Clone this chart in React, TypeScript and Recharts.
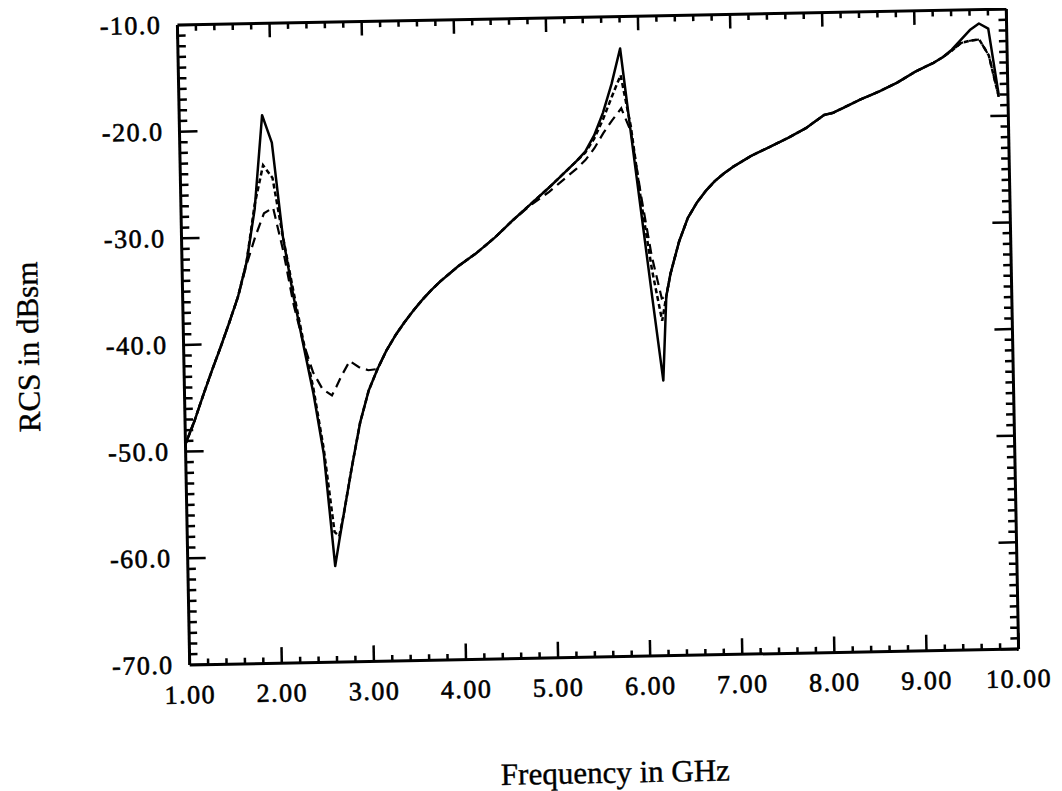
import React from 'react';
import { ComposedChart, Line, Scatter, XAxis, YAxis } from 'recharts';

// Frequency samples (GHz)
const freqGHz = [
  1.0, 1.1, 1.2, 1.3, 1.4, 1.5, 1.6, 1.7, 1.8, 1.9,
  2.0, 2.1, 2.2, 2.3, 2.4, 2.5, 2.6, 2.65, 2.7, 2.8, 2.9,
  3.0, 3.1, 3.2, 3.3, 3.4, 3.5, 3.6, 3.7, 3.8, 3.9,
  4.0, 4.2, 4.4, 4.6, 4.8, 5.0, 5.1, 5.2, 5.3, 5.4, 5.5, 5.6, 5.7, 5.8, 5.9,
  6.0, 6.1, 6.2, 6.25, 6.3, 6.4, 6.5, 6.6, 6.7, 6.8, 6.9,
  7.0, 7.2, 7.4, 7.6, 7.8, 7.9, 8.0, 8.1, 8.2, 8.4, 8.6, 8.8,
  9.0, 9.1, 9.2, 9.3, 9.4, 9.5, 9.6, 9.7, 9.8, 9.9,
];

// Solid curve (dBsm)
const rcsSolid = [
  -49.3, -47.2, -44.8, -42.5, -40.3, -38.0, -35.6, -32.4, -27.4, -18.6,
  -21.2, -30.0, -35.5, -40.2, -44.8, -50.5, -61.0, -58.6, -56.3, -51.8, -47.6,
  -44.6, -42.6, -40.9, -39.5, -38.3, -37.2, -36.2, -35.3, -34.5, -33.8,
  -33.1, -31.9, -30.5, -28.9, -27.4, -25.9, -25.1, -24.3, -23.5, -22.6, -21.1, -19.0, -16.3, -13.0, -21.0,
  -28.8, -36.6, -44.2, -36.3, -34.2, -31.2, -29.0, -27.6, -26.5, -25.6, -24.9,
  -24.3, -23.3, -22.5, -21.7, -20.8, -20.2, -19.6, -19.4, -19.0, -18.2, -17.5, -16.7,
  -15.7, -15.3, -14.9, -14.4, -13.7, -12.8, -11.9, -11.3, -11.8, -18.0,
];

// Short-dashed curve (dBsm)
const rcsShortDash = [
  -49.3, -47.2, -44.8, -42.5, -40.3, -38.0, -35.6, -32.4, -27.0, -23.3,
  -24.5, -30.0, -35.0, -39.8, -44.3, -50.0, -57.8, -58.2, -56.3, -51.8, -47.6,
  -44.6, -42.6, -40.9, -39.5, -38.3, -37.2, -36.2, -35.3, -34.5, -33.8,
  -33.1, -31.9, -30.5, -28.9, -27.4, -25.9, -25.1, -24.3, -23.5, -22.7, -21.4, -19.6, -17.5, -15.5, -20.3,
  -27.6, -33.8, -38.6, -36.3, -34.2, -31.2, -29.0, -27.6, -26.5, -25.6, -24.9,
  -24.3, -23.3, -22.5, -21.7, -20.8, -20.2, -19.6, -19.4, -19.0, -18.2, -17.5, -16.7,
  -15.7, -15.3, -14.9, -14.4, -13.8, -13.1, -12.9, -12.8, -14.3, -18.2,
];

// Long-dashed curve (dBsm)
const rcsLongDash = [
  -49.3, -47.2, -44.8, -42.5, -40.3, -38.0, -35.6, -32.6, -30.0, -27.8,
  -27.3, -31.3, -36.3, -40.0, -42.8, -44.4, -45.0, -44.2, -43.3, -41.8, -42.4,
  -42.7, -42.6, -40.9, -39.5, -38.3, -37.2, -36.2, -35.3, -34.5, -33.8,
  -33.1, -31.9, -30.5, -28.9, -27.5, -26.3, -25.6, -24.9, -24.2, -23.4, -22.3, -20.9, -19.7, -18.6, -20.8,
  -27.0, -32.5, -36.5, -36.3, -34.2, -31.2, -29.0, -27.6, -26.5, -25.6, -24.9,
  -24.3, -23.3, -22.5, -21.7, -20.8, -20.2, -19.6, -19.4, -19.0, -18.2, -17.5, -16.7,
  -15.7, -15.3, -14.9, -14.4, -13.8, -13.1, -12.9, -12.8, -14.3, -18.2,
];

// Axis ticks
const xMajorTicks = [1, 2, 3, 4, 5, 6, 7, 8, 9, 10];
const xAllTicks = Array.from({ length: 46 }, (_, i) => Math.round((1 + i * 0.2) * 10) / 10);
const yMajorTicks = [-70, -60, -50, -40, -30, -20, -10];
const yAllTicks = Array.from({ length: 61 }, (_, i) => -70 + i);

const data = freqGHz.map((f, i) => ({
  f,
  solid: rcsSolid[i],
  shortDash: rcsShortDash[i],
  longDash: rcsLongDash[i],
}));

// Tick marks along the left frame edge (placed at the x-domain start through the scales)
const leftEdgeTicks = yAllTicks.map((v) => ({ f: xMajorTicks[0], tick: v }));

const FONT = '"Liberation Serif", "Times New Roman", serif';
const isMajorX = (v: number) => xMajorTicks.some((t) => Math.abs(t - v) < 1e-6);
const isMajorY = (v: number) => yMajorTicks.some((t) => Math.abs(t - v) < 1e-6);

const labelStyle = {
  fontFamily: FONT,
  fontSize: 26,
  letterSpacing: 1.5,
  fill: '#000',
  stroke: '#000',
  strokeWidth: 0.6,
} as any;

function BottomTick(props: any) {
  const x = Number(props.x);
  const y = Number(props.y);
  const v = props.payload.value;
  const major = isMajorX(v);
  const len = major ? 16 : 6;
  return (
    <g>
      <path d={`M${x},${y}L${x},${y - len}`} stroke="#000" strokeWidth={2.5} fill="none" />
      {major && (
        <text x={x} y={y + 30} textAnchor="middle" dominantBaseline="central" style={labelStyle}>
          {v.toFixed(2)}
        </text>
      )}
    </g>
  );
}

function TopTick(props: any) {
  const x = Number(props.x);
  const y = Number(props.y);
  const major = isMajorX(props.payload.value);
  const len = major ? 14 : 6;
  return <path d={`M${x},${y}L${x},${y + len}`} stroke="#000" strokeWidth={2.5} fill="none" />;
}

function LeftTick(props: any) {
  const x = Number(props.x);
  const y = Number(props.y);
  const v = props.payload.value;
  if (!isMajorY(v)) return <g />;
  return (
    <text x={x - 16} y={y} textAnchor="end" dominantBaseline="central" style={labelStyle}>
      {v.toFixed(1)}
    </text>
  );
}

function RightTick(props: any) {
  const x = Number(props.x);
  const y = Number(props.y);
  const major = isMajorY(props.payload.value);
  const len = major ? 18 : 8;
  return <path d={`M${x},${y}L${x - len},${y}`} stroke="#000" strokeWidth={2.5} fill="none" />;
}

function LeftEdgeTickShape(props: any) {
  const cx = Number(props.cx);
  const cy = Number(props.cy);
  const v = props.payload ? props.payload.tick : 0;
  const len = isMajorY(v) ? 18 : 8;
  return <path d={`M${cx},${cy}L${cx + len},${cy}`} stroke="#000" strokeWidth={2.5} fill="none" />;
}

const axisLine = { stroke: '#000', strokeWidth: 3 };

export default function App() {
  return (
    <div style={{ width: 1046, height: 783, overflow: 'hidden', position: 'relative' }}>
      <div
        style={{
          position: 'absolute',
          left: 0,
          top: 0,
          width: 1046,
          height: 783,
          transform: 'rotate(-1.1deg)',
          transformOrigin: '590px 329px',
        }}
      >
        <ComposedChart
          width={1046}
          height={775}
          data={data}
          margin={{ top: 4, right: 21.5, bottom: 76, left: 115.5 }}
        >
          <XAxis
            xAxisId="bottom"
            dataKey="f"
            type="number"
            domain={[1, 10]}
            allowDataOverflow
            ticks={xAllTicks}
            interval={0}
            tickSize={0}
            tickMargin={0}
            tickLine={false}
            axisLine={axisLine}
            tick={<BottomTick />}
            height={50}
          />
          <XAxis
            xAxisId="top"
            dataKey="f"
            orientation="top"
            type="number"
            domain={[1, 10]}
            allowDataOverflow
            ticks={xAllTicks}
            interval={0}
            tickSize={0}
            tickMargin={0}
            tickLine={false}
            axisLine={axisLine}
            tick={<TopTick />}
            height={5}
          />
          <YAxis
            yAxisId="left"
            type="number"
            domain={[-70, -10]}
            allowDataOverflow
            ticks={yAllTicks}
            interval={0}
            tickSize={0}
            tickMargin={0}
            tickLine={false}
            axisLine={axisLine}
            tick={<LeftTick />}
            width={60}
          />
          <YAxis
            yAxisId="right"
            orientation="right"
            type="number"
            domain={[-70, -10]}
            allowDataOverflow
            ticks={yAllTicks}
            interval={0}
            tickSize={0}
            tickMargin={0}
            tickLine={false}
            axisLine={axisLine}
            tick={<RightTick />}
            width={20}
          />
          <Scatter
            xAxisId="bottom"
            yAxisId="left"
            data={leftEdgeTicks}
            dataKey="tick"
            shape={<LeftEdgeTickShape />}
            isAnimationActive={false}
          />
          <Line
            xAxisId="bottom"
            yAxisId="left"
            type="linear"
            dataKey="longDash"
            stroke="#000"
            strokeWidth={2.2}
            strokeDasharray="10 6"
            dot={false}
            isAnimationActive={false}
          />
          <Line
            xAxisId="bottom"
            yAxisId="left"
            type="linear"
            dataKey="shortDash"
            stroke="#000"
            strokeWidth={2.5}
            strokeDasharray="5 3"
            dot={false}
            isAnimationActive={false}
          />
          <Line
            xAxisId="bottom"
            yAxisId="left"
            type="linear"
            dataKey="solid"
            stroke="#000"
            strokeWidth={2.5}
            strokeLinejoin="round"
            dot={false}
            isAnimationActive={false}
          />
        </ComposedChart>
        <div
          style={{
            position: 'absolute',
            left: 20,
            top: 328,
            transform: 'translate(-50%, -50%) rotate(180deg)',
            writingMode: 'vertical-rl',
            fontFamily: FONT,
            fontSize: 31,
            lineHeight: '31px',
            whiteSpace: 'nowrap',
            color: '#000',
            WebkitTextStroke: '0.4px #000',
          }}
        >
          RCS in dBsm
        </div>
        <div
          style={{
            position: 'absolute',
            left: 599,
            top: 765,
            transform: 'translate(-50%, -50%)',
            fontFamily: FONT,
            fontSize: 31,
            whiteSpace: 'nowrap',
            color: '#000',
            WebkitTextStroke: '0.4px #000',
          }}
        >
          Frequency in GHz
        </div>
      </div>
    </div>
  );
}
